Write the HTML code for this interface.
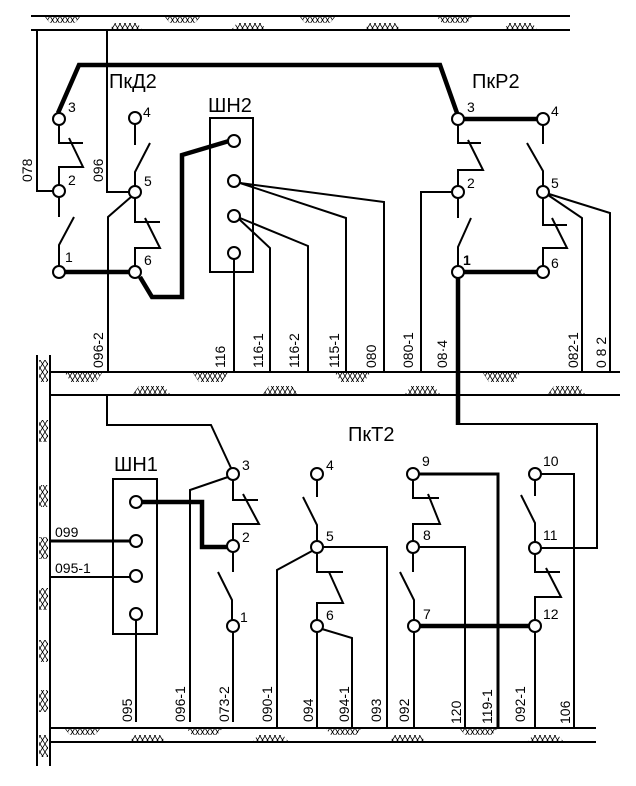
<!DOCTYPE html>
<html><head><meta charset="utf-8"><style>html,body{margin:0;padding:0;background:#fff}svg{display:block}</style></head><body>
<svg width="636" height="786" viewBox="0 0 636 786" xmlns="http://www.w3.org/2000/svg" font-family="Liberation Sans, Arial, sans-serif">
<defs>
<pattern id="h" width="5" height="8" patternUnits="userSpaceOnUse"><path d="M0 0L5 8M5 0L0 8" stroke="#000" stroke-width="0.8"/></pattern>
</defs>
<g fill="none" stroke="#000" stroke-width="2">
<path d="M31 16H570M31 30H570"/>
<path d="M50 372H620M50 395H620"/>
<path d="M50 728H596M50 742H596"/>
<path d="M37 355V766M50 355V766"/>
</g>
<g fill="url(#h)" stroke="none">
<polygon points="45,17 80,17 75,23 50,23"/><polygon points="110,29 142,29 137,23 115,23"/>
<polygon points="165,17 200,17 195,23 170,23"/><polygon points="232,29 266,29 261,23 237,23"/>
<polygon points="300,17 335,17 330,23 305,23"/><polygon points="365,29 400,29 395,23 370,23"/>
<polygon points="437,17 472,17 467,23 442,23"/><polygon points="504,29 537,29 532,23 509,23"/>
<polygon points="65,373 102,373 96,382 71,382"/><polygon points="133,394 170,394 164,386 139,386"/>
<polygon points="193,373 228,373 222,382 199,382"/><polygon points="263,394 298,394 292,386 269,386"/>
<polygon points="335,373 370,373 364,382 341,382"/><polygon points="405,394 440,394 434,386 411,386"/>
<polygon points="483,373 520,373 514,382 489,382"/><polygon points="548,394 585,394 579,386 554,386"/>
<polygon points="65,729 100,729 95,735 70,735"/><polygon points="130,741 165,741 160,735 135,735"/>
<polygon points="187,729 222,729 217,735 192,735"/><polygon points="253,741 288,741 283,735 258,735"/>
<polygon points="326,729 361,729 356,735 331,735"/><polygon points="390,741 425,741 420,735 395,735"/>
<polygon points="460,729 497,729 492,735 465,735"/><polygon points="528,741 563,741 558,735 533,735"/>
<rect x="39" y="360" width="9" height="22"/><rect x="39" y="420" width="9" height="22"/>
<rect x="39" y="485" width="9" height="22"/><rect x="39" y="537" width="9" height="22"/>
<rect x="39" y="588" width="9" height="22"/><rect x="39" y="640" width="9" height="22"/>
<rect x="39" y="690" width="9" height="22"/><rect x="39" y="735" width="9" height="22"/>
</g>

<g fill="none" stroke="#000" stroke-width="2">
<path d="M37 30V191H53M107 30V192H129"/>
<path d="M59 125V143H83M69 138L83 167H59V185"/>
<path d="M59 197V217M74 217L59 245V266"/>
<path d="M135 124V145M150 143L135 172V186"/>
<path d="M135 198V222H160M145 218L160 248H135V266"/>
<path d="M131 197L108 217V372"/>
<rect x="210" y="118" width="43" height="154"/>
<path d="M240 183L384 202V372M240 183L346 218V372"/>
<path d="M239 219L270 248V372M240 218L308 246V372"/>
<path d="M234 259V372"/>
<path d="M458 125V143H481M468 140L483 170H458V186"/>
<path d="M458 198V218M471 218L458 247V266"/>
<path d="M543 125V144M527 143L543 171V186"/>
<path d="M543 198V225H567M552 218L567 248H543V266"/>
<path d="M452 192H421V372"/>
<path d="M548 195L582 218V372M549 194L610 213V372"/>
<path d="M107 395V425H211L231 468"/>
<rect x="113" y="479" width="44" height="155"/>
<path d="M136 620V722"/>
<path d="M50 577H130"/>
<path d="M228 477L190 490V722"/>
<path d="M233 480V500H258M243 494L259 524H233V540"/>
<path d="M233 552V572M218 572L232 600V620M233 632V722"/>
<path d="M317 480V497M303 497L317 525V541"/>
<path d="M312 551L277 570V728M323 547H387V728"/>
<path d="M317 553V572H343M329 572L343 603H317V620"/>
<path d="M317 632V728M322 629L352 638V728"/>
<path d="M413 480V498H439M428 494L440 524H413V541"/>
<path d="M419 547H465V728"/>
<path d="M413 553V572M400 572L414 600V620M414 632V728"/>
<path d="M541 474H574V728"/>
<path d="M535 480V496M521 495L535 523V542"/>
<path d="M541 548H597V424H458"/>
<path d="M535 554V572H560M546 568L561 597H535V620M535 632V728"/>
</g>
<g fill="none" stroke="#000" stroke-width="4.5">
<path d="M58 113L79 65H440L457 113"/>
<path d="M464 119H537"/>
<path d="M65 272H129M140 277L152 297H182V155L229 141"/>
<path d="M464 272H537"/>
<path d="M458 278V425"/>
<path d="M142 502H202V547H227"/>
<path d="M420 626H529"/>
</g>
<g fill="none" stroke="#000" stroke-width="3">
<path d="M50 541H130"/>
<path d="M419 474H498V728"/>
</g>
<g fill="#fff" stroke="#000" stroke-width="2">
<circle cx="59" cy="119" r="6"/><circle cx="59" cy="191" r="6"/><circle cx="59" cy="272" r="6"/>
<circle cx="135" cy="118" r="6"/><circle cx="135" cy="192" r="6"/><circle cx="135" cy="272" r="6"/>
<circle cx="234" cy="141" r="6"/><circle cx="234" cy="181" r="6"/><circle cx="234" cy="216" r="6"/><circle cx="234" cy="253" r="6"/>
<circle cx="458" cy="119" r="6"/><circle cx="543" cy="119" r="6"/><circle cx="458" cy="192" r="6"/><circle cx="543" cy="192" r="6"/>
<circle cx="458" cy="272" r="6"/><circle cx="543" cy="272" r="6"/>
<circle cx="136" cy="502" r="6"/><circle cx="136" cy="541" r="6"/><circle cx="136" cy="576" r="6"/><circle cx="136" cy="614" r="6"/>
<circle cx="233" cy="474" r="6"/><circle cx="233" cy="546" r="6"/><circle cx="233" cy="626" r="6"/>
<circle cx="317" cy="474" r="6"/><circle cx="317" cy="547" r="6"/><circle cx="317" cy="626" r="6"/>
<circle cx="413" cy="474" r="6"/><circle cx="413" cy="547" r="6"/><circle cx="414" cy="626" r="6"/>
<circle cx="535" cy="474" r="6"/><circle cx="535" cy="548" r="6"/><circle cx="535" cy="626" r="6"/>
</g>
<g font-size="20" fill="#000">
<text x="109" y="88">ПкД2</text><text x="208" y="112">ШН2</text><text x="472" y="88">ПкР2</text>
<text x="114" y="471">ШН1</text><text x="348" y="441">ПкТ2</text>
</g>
<g font-size="14" fill="#000">
<text x="68" y="112">3</text><text x="68" y="185">2</text><text x="65" y="262">1</text>
<text x="143" y="117">4</text><text x="144" y="186">5</text><text x="144" y="265">6</text>
<text x="467" y="112">3</text><text x="551" y="116">4</text><text x="467" y="188">2</text><text x="551" y="188">5</text>
<text x="463" y="265" font-weight="bold">1</text><text x="551" y="268">6</text>
<text x="242" y="470">3</text><text x="242" y="542">2</text><text x="240" y="622">1</text>
<text x="326" y="470">4</text><text x="326" y="541">5</text><text x="326" y="620">6</text>
<text x="422" y="466">9</text><text x="423" y="540">8</text><text x="423" y="619">7</text>
<text x="543" y="466">10</text><text x="543" y="540">11</text><text x="543" y="619">12</text>
<text x="55" y="537">099</text><text x="55" y="573">095-1</text>
</g>
<g font-size="14" fill="#000">
<text transform="translate(32,182) rotate(-90)">078</text>
<text transform="translate(103,182) rotate(-90)">096</text>
<text transform="translate(103,368) rotate(-90)">096-2</text>
<text transform="translate(225,368) rotate(-90)">116</text>
<text transform="translate(263,368) rotate(-90)">116-1</text>
<text transform="translate(299,368) rotate(-90)">116-2</text>
<text transform="translate(339,368) rotate(-90)">115-1</text>
<text transform="translate(376,368) rotate(-90)">080</text>
<text transform="translate(413,368) rotate(-90)">080-1</text>
<text transform="translate(447,368) rotate(-90)">08·4</text>
<text transform="translate(578,368) rotate(-90)">082-1</text>
<text transform="translate(606,368) rotate(-90)">0 8 2</text>
<text transform="translate(132,722) rotate(-90)">095</text>
<text transform="translate(185,722) rotate(-90)">096-1</text>
<text transform="translate(229,722) rotate(-90)">073-2</text>
<text transform="translate(272,722) rotate(-90)">090-1</text>
<text transform="translate(313,722) rotate(-90)">094</text>
<text transform="translate(349,722) rotate(-90)">094-1</text>
<text transform="translate(381,722) rotate(-90)">093</text>
<text transform="translate(409,722) rotate(-90)">092</text>
<text transform="translate(461,724) rotate(-90)">120</text>
<text transform="translate(492,724) rotate(-90)">119-1</text>
<text transform="translate(525,722) rotate(-90)">092-1</text>
<text transform="translate(570,724) rotate(-90)">106</text>
</g>
</svg>
</body></html>
